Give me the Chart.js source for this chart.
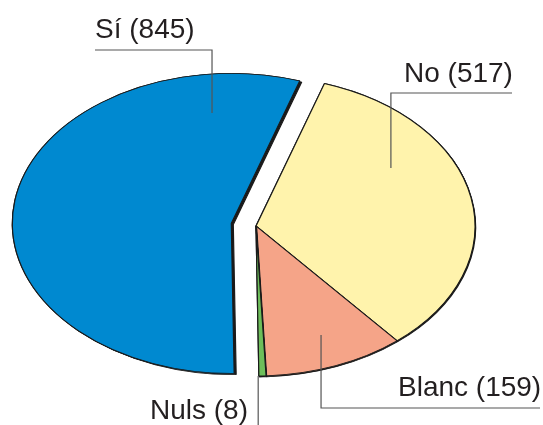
<!DOCTYPE html>
<html>
<head>
<meta charset="utf-8">
<script src="https://cdn.jsdelivr.net/npm/chart.js@4"></script>
<style>
  html, body { margin: 0; padding: 0; background: #fff; }
  #wrap { width: 543px; height: 425px; }
</style>
</head>
<body>
<div id="wrap"><canvas id="myChart"></canvas></div>
<script>
// Dades
const categories = ['Sí', 'No', 'Blanc', 'Nuls'];
const votes = [845, 517, 159, 8];
const colors = ['#0089d0', '#fff3ac', '#f5a488', '#6dbe5a'];

// l'el·lipse: alçada / amplada
const squash = 150 / 219;
// porció separada (px)
const explode = [25, 0, 0, 0];

// etiquetes: text, ancoratge (fracció del radi), línia guia
const labelLayout = [
  { tx: 95, ty: 38, align: 'left', ax: -0.088, ay: -0.736, hy: 50, hx: 95 },
  { tx: 404, ty: 82, align: 'left', ax: 0.616, ay: -0.387, hy: 93, hx: 512 },
  { tx: 398, ty: 396, align: 'left', ax: 0.297, ay: 0.727, hy: 408, hx: 540 },
  { tx: 248, ty: 419, align: 'right', ax: 0.01, ay: 1.0, hy: 425, hx: null }
];

const ellipsePlugin = {
  id: 'ellipse',
  afterDatasetsUpdate(chart) {
    const meta = chart.getDatasetMeta(0);
    meta.data.forEach((arc, i) => {
      if (arc._patched) return;
      const base = arc.draw;
      arc.draw = function (ctx, area) {
        const d = explode[i];
        const mid = (this.startAngle + this.endAngle) / 2;
        ctx.save();
        ctx.translate(Math.cos(mid) * d, Math.sin(mid) * d);
        // ombra fosca a la vora inferior / dreta
        ctx.save();
        ctx.shadowColor = '#1a1a1a';
        ctx.shadowOffsetX = d ? 2 : 0.6;
        ctx.shadowOffsetY = d ? 1.2 : 1;
        base.call(this, ctx, area);
        ctx.restore();
        base.call(this, ctx, area);
        ctx.restore();
      };
      arc._patched = true;
    });
  },
  beforeDatasetsDraw(chart) {
    const { ctx, chartArea } = chart;
    const cy = (chartArea.top + chartArea.bottom) / 2;
    ctx.save();
    ctx.translate(0, cy);
    ctx.scale(1, squash);
    ctx.translate(0, -cy);
  },
  afterDatasetsDraw(chart) {
    chart.ctx.restore();
  }
};

const labelPlugin = {
  id: 'leaderLabels',
  afterDraw(chart) {
    const { ctx } = chart;
    const meta = chart.getDatasetMeta(0);
    ctx.save();
    ctx.font = '28px "Liberation Sans", Arial, sans-serif';
    ctx.fillStyle = '#231f20';
    ctx.textBaseline = 'alphabetic';
    meta.data.forEach((arc, i) => {
      const L = labelLayout[i];
      const mid = (arc.startAngle + arc.endAngle) / 2;
      const r = arc.outerRadius;
      const cx = arc.x + Math.cos(mid) * explode[i];
      const cy = arc.y + Math.sin(mid) * explode[i] * squash;
      const px = cx + L.ax * r;
      const py = cy + L.ay * r * squash;
      ctx.strokeStyle = '#555';
      ctx.lineWidth = 1.2;
      ctx.beginPath();
      if (L.hx !== null) {
        ctx.moveTo(L.hx, L.hy);
        ctx.lineTo(px, L.hy);
      } else {
        ctx.moveTo(px, L.hy);
      }
      ctx.lineTo(px, py);
      ctx.stroke();
      ctx.textAlign = L.align;
      ctx.fillText(categories[i] + ' (' + votes[i] + ')', L.tx, L.ty);
    });
    ctx.restore();
  }
};

const ctx = document.getElementById('myChart').getContext('2d');
const myChart = new Chart(ctx, {
  type: 'pie',
  data: {
    labels: categories,
    datasets: [{
      data: votes,
      backgroundColor: colors,
      borderColor: '#1a1a1a',
      borderWidth: 1.2,
      hoverOffset: 0,
      clip: false
    }]
  },
  options: {
    responsive: true,
    maintainAspectRatio: false,
    animation: false,
    events: [],
    radius: 219,
    rotation: 179.25,
    layout: { padding: { left: 0, right: 31, top: 27, bottom: 0 } },
    plugins: {
      legend: { display: false },
      tooltip: { enabled: false }
    }
  },
  plugins: [ellipsePlugin, labelPlugin]
});
</script>
</body>
</html>
